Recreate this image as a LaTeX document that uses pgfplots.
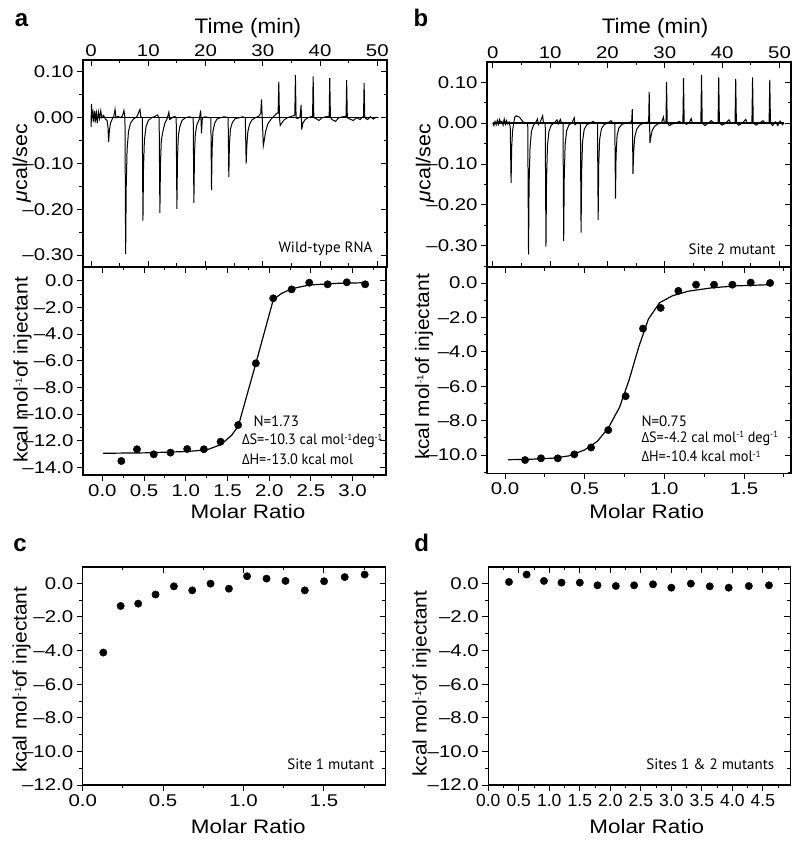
\documentclass[border=0pt]{standalone}
\usepackage{pgfplots}
\pgfplotsset{compat=1.18}
\usepackage{fontspec}
\setmainfont{Liberation Sans}
\newfontfamily\myr{Open Sans}
\newfontfamily\pts{PT Sans}

\pgfplotsset{
  base/.style={scale only axis, anchor=south west,
    axis line style={line width=1.1pt},
    tick style={black, line width=0.9pt},
    major tick length=6pt, minor tick length=3.5pt,
    tick label style={font=\fontsize{17}{19}\selectfont},
    /pgf/number format/assume math mode=true},
  trace/.style={black, line width=1.0pt, mark=none},
  fit/.style={black, line width=1.2pt, mark=none},
  pts/.style={only marks, mark=*, mark size=3.7pt, black},
}
\newcommand{\sx}[1]{\scalebox{1.2}[1]{#1}}
\newcommand{\lab}{\fontsize{19.5}{21}\selectfont}
\newcommand{\tlab}{\fontsize{21}{23}\selectfont}
\newcommand{\ylab}{\fontsize{19.5}{21}\selectfont}
\newcommand{\ulab}{\fontsize{20}{22}\selectfont}
\newcommand{\ann}{\pts\fontsize{15}{17}\selectfont}
\newcommand{\sps}[1]{\raisebox{0.55ex}{\fontsize{9}{10}\selectfont #1}}
\newcommand{\ylabk}{\scalebox{1.07}[1]{kcal mol\sps{-1}of injectant}}
\newcommand{\D}{{\myr\fontsize{14}{16}\selectfont Δ}}

\begin{document}
\begin{tikzpicture}
\useasboundingbox (0pt,0pt) rectangle (800pt,843pt);

% ---------------- panel a top ----------------
\begin{axis}[base, at={(83pt,576pt)}, width=304pt, height=207pt,
  xmin=-1.4, xmax=51.7, ymin=-0.326, ymax=0.126,
  xtick=\empty, ytick={-0.3,-0.2,-0.1,0,0.1},
  yticklabels={\sx{–0.30},\sx{–0.20},\sx{–0.10},\sx{0.00},\sx{0.10}},
  minor ytick={-0.25,-0.15,-0.05,0.05},
  ytick pos=left, tick align=outside]
\addplot[black, line width=1.3pt] coordinates {(0,0) (50,0)};
\addplot[trace] coordinates {
(0,-0.02) (0.08,0.03) (0.2,0.0) (0.35,0.012) (0.5,-0.01) (0.65,0.014) (0.8,-0.004) (0.95,0.01) (1.1,-0.012) (1.3,0.012) (1.5,-0.002) (1.7,0.015) (1.9,0.0) (2.2,0.005) (2.5,-0.003) (2.8,-0.006)
(2.96,-0.02) (3.08,-0.053) (3.2,-0.03) (3.4,-0.012) (3.7,-0.003) (4.0,0.004) (4.2,0.018) (4.35,0.0) (4.7,0.003) (5.1,0.0) (5.5,0.004) (5.75,0.016) (5.93,0.0)
(6.05,-0.298) (6.15,-0.15) (6.3,-0.07) (6.55,-0.03) (6.9,-0.012) (7.4,-0.003) (8.0,0.002) (8.55,0.018) (8.7,0.002) (8.95,0.0)
(9.07,-0.225) (9.17,-0.11) (9.32,-0.05) (9.6,-0.02) (10.0,-0.006) (10.6,0.0) (11.2,0.003) (11.6,0.006) (11.9,0.0)
(12.03,-0.208) (12.13,-0.1) (12.28,-0.05) (12.55,-0.03) (12.9,-0.012) (13.3,-0.002) (13.6,0.012) (13.75,-0.004) (14.2,0.0) (14.6,0.003) (14.88,0.0)
(15.0,-0.199) (15.1,-0.09) (15.25,-0.04) (15.5,-0.02) (15.9,-0.006) (16.5,0.0) (17.2,0.002) (17.6,0.0) (17.85,0.0)
(17.97,-0.186) (18.07,-0.08) (18.22,-0.035) (18.5,-0.015) (18.9,-0.004) (19.15,0.016) (19.3,-0.034) (19.45,0.0) (20.0,0.002) (20.5,0.0) (20.93,0.0)
(21.05,-0.158) (21.15,-0.07) (21.3,-0.03) (21.6,-0.012) (22.0,-0.003) (22.6,0.0) (23.3,0.002) (23.95,0.0)
(24.07,-0.13) (24.17,-0.06) (24.35,-0.025) (24.7,-0.01) (25.2,-0.002) (25.9,0.0) (26.5,0.002) (26.95,0.0)
(27.1,-0.10) (27.22,-0.06) (27.4,-0.03) (27.7,-0.014) (28.1,-0.005) (28.7,0.0) (29.3,0.003) (29.65,0.01) (29.78,0.04) (29.9,0.0) (30.0,-0.03)
(30.1,-0.061) (30.25,-0.05) (30.5,-0.03) (30.9,-0.013) (31.4,-0.004) (32.0,0.004) (32.5,0.01) (32.68,0.01)
(32.8,0.078) (32.92,0.0) (33.05,-0.017) (33.3,-0.012) (33.7,-0.005) (34.3,0.0) (35.0,0.003) (35.5,0.005) (35.6,0.006)
(35.7,0.093) (35.82,0.0) (36.1,-0.002) (36.5,0.002) (36.7,0.028) (36.8,-0.026) (37.0,-0.012) (37.4,-0.004) (37.9,0.0) (38.4,0.002) (38.7,0.003)
(38.8,0.09) (38.92,0.0) (39.3,-0.002) (39.8,-0.006) (40.4,0.0) (41.0,0.002) (41.6,0.003)
(41.7,0.087) (41.82,0.0) (42.2,-0.005) (42.7,-0.008) (43.3,0.0) (44.0,0.002) (44.55,0.003)
(44.65,0.082) (44.77,0.0) (45.2,-0.003) (45.8,-0.006) (46.4,0.0) (47.0,-0.004) (47.6,0.003)
(47.7,0.076) (47.82,0.0) (48.3,-0.004) (48.8,0.002) (49.3,-0.003) (49.8,0.001) (50.2,0.0)
};
\end{axis}
\begin{axis}[base, at={(83pt,576pt)}, width=304pt, height=207pt,
  xmin=-1.4, xmax=51.7, ymin=-0.326, ymax=0.126,
  xtick={0,10,20,30,40,50}, xticklabels={\sx{0},\sx{10},\sx{20},\sx{30},\sx{40},\sx{50}},
  minor xtick={5,15,25,35,45}, xtick pos=both, xticklabel pos=right,
  ytick={-0.3,-0.2,-0.1,0,0.1}, yticklabels={},
  minor ytick={-0.25,-0.15,-0.05,0.05}, ytick pos=right, tick align=inside]
\end{axis}

% ---------------- panel a bottom ----------------
\begin{axis}[base, at={(83pt,368pt)}, width=303pt, height=208pt,
  xmin=-0.232, xmax=3.40, ymin=-14.58, ymax=1.03,
  xtick={0,0.5,1,1.5,2,2.5,3}, xticklabels={\sx{0.0},\sx{0.5},\sx{1.0},\sx{1.5},\sx{2.0},\sx{2.5},\sx{3.0}},
  minor xtick={0.25,0.75,1.25,1.75,2.25,2.75,3.25},
  ytick={-14,-12,-10,-8,-6,-4,-2,0},
  yticklabels={\sx{–14.0},\sx{–12.0},\sx{–10.0},\sx{–8.0},\sx{–6.0},\sx{–4.0},\sx{–2.0},\sx{0.0}},
  minor ytick={-13,-11,-9,-7,-5,-3,-1},
  xtick pos=left, ytick pos=left, tick align=outside]
\addplot[fit] coordinates {(0.01,-12.95) (0.5,-12.92) (1.0,-12.82) (1.25,-12.7) (1.42,-12.3) (1.55,-11.6) (1.63,-10.9) (1.84,-6.2) (2.05,-1.4) (2.15,-0.95) (2.27,-0.6) (2.48,-0.32) (2.8,-0.2) (3.15,-0.15)};
\addplot[pts] coordinates {(0.228,-13.53) (0.415,-12.65) (0.616,-13.03) (0.817,-12.9) (1.017,-12.63) (1.217,-12.65) (1.417,-12.08) (1.628,-10.83) (1.84,-6.2) (2.048,-1.32) (2.269,-0.65) (2.48,-0.15) (2.70,-0.27) (2.93,-0.12) (3.15,-0.27)};
\end{axis}
\begin{axis}[base, at={(83pt,368pt)}, width=303pt, height=208pt,
  xmin=-0.232, xmax=3.40, ymin=-14.58, ymax=1.03,
  xtick={0,0.5,1,1.5,2,2.5,3}, xticklabels={},
  minor xtick={0.25,0.75,1.25,1.75,2.25,2.75,3.25},
  ytick={-14,-12,-10,-8,-6,-4,-2,0}, yticklabels={},
  minor ytick={-13,-11,-9,-7,-5,-3,-1},
  xtick pos=right, ytick pos=right, tick align=inside]
\end{axis}

% ---------------- panel b top ----------------
\begin{axis}[base, at={(487pt,576pt)}, width=304pt, height=205pt,
  xmin=-1.0, xmax=52, ymin=-0.352, ymax=0.1495,
  xtick=\empty, ytick={-0.3,-0.2,-0.1,0,0.1},
  yticklabels={\sx{–0.30},\sx{–0.20},\sx{–0.10},\sx{0.00},\sx{0.10}},
  minor ytick={-0.35,-0.25,-0.15,-0.05,0.05},
  ytick pos=left, tick align=outside]
\addplot[black, line width=1.3pt] coordinates {(0,0) (50.8,0)};
\addplot[trace] coordinates {
(0,0.0) (0.2,-0.006) (0.4,0.004) (0.6,-0.004) (0.8,0.007) (1.0,-0.003) (1.2,0.009) (1.4,0.0) (1.6,0.004) (1.8,-0.005) (2.0,0.01) (2.2,-0.003) (2.4,0.006) (2.6,-0.002) (2.85,0.003) (3.05,-0.01)
(3.2,-0.146) (3.3,-0.06) (3.45,-0.02) (3.65,0.0) (3.85,0.015) (4.1,0.018) (4.4,0.016) (4.7,0.014) (5.0,0.008) (5.3,0.003) (5.7,0.0) (6.1,0.0)
(6.24,-0.321) (6.34,-0.15) (6.5,-0.06) (6.75,-0.02) (7.1,-0.005) (7.5,0.002) (7.8,0.01) (7.95,-0.004) (8.3,0.003) (8.7,0.018) (8.85,0.0) (9.15,0.0)
(9.28,-0.302) (9.38,-0.14) (9.54,-0.055) (9.8,-0.02) (10.2,-0.005) (10.7,0.0) (11.2,0.008) (11.4,-0.002) (11.8,0.009) (12.0,0.0) (12.25,0.0)
(12.37,-0.289) (12.47,-0.13) (12.63,-0.05) (12.9,-0.018) (13.3,-0.004) (13.8,0.0) (14.2,0.013) (14.35,-0.004) (14.8,0.002) (15.28,0.0)
(15.4,-0.268) (15.5,-0.12) (15.66,-0.045) (15.95,-0.015) (16.4,-0.004) (17.0,0.0) (17.5,0.004) (18.0,0.0) (18.26,0.0)
(18.38,-0.237) (18.48,-0.1) (18.64,-0.04) (18.95,-0.014) (19.4,-0.004) (20.0,0.0) (20.6,0.006) (21.0,0.0) (21.28,0.0)
(21.4,-0.185) (21.5,-0.08) (21.68,-0.03) (22.0,-0.012) (22.5,-0.003) (23.2,0.0) (23.9,0.002) (24.22,0.004) (24.33,0.034)
(24.45,-0.124) (24.57,-0.07) (24.75,-0.035) (25.1,-0.015) (25.6,-0.005) (26.3,0.0) (26.9,0.002) (27.18,0.003) (27.28,0.076)
(27.4,-0.049) (27.55,-0.035) (27.8,-0.018) (28.2,-0.008) (28.8,-0.002) (29.4,0.0) (29.75,0.015) (29.9,0.002) (30.2,0.0)
(30.3,0.10) (30.42,0.0) (30.8,-0.006) (31.3,-0.002) (31.9,0.0) (32.5,0.004) (33.15,0.0)
(33.26,0.11) (33.38,0.0) (33.8,-0.003) (34.3,0.002) (34.6,0.011) (34.8,0.0) (35.5,0.0) (36.28,0.0)
(36.4,0.118) (36.52,0.0) (37.0,-0.006) (37.6,0.0) (38.1,0.006) (38.6,0.0) (39.28,0.0)
(39.4,0.112) (39.52,0.0) (40.0,-0.005) (40.6,0.0) (41.2,0.008) (41.5,0.0) (42.24,0.0)
(42.36,0.108) (42.48,0.0) (42.9,-0.005) (43.5,0.0) (44.1,0.009) (44.4,0.0) (45.18,0.0)
(45.3,0.112) (45.42,0.0) (45.9,-0.005) (46.5,0.0) (47.1,0.006) (47.5,0.0) (48.18,0.0)
(48.3,0.106) (48.42,0.0) (48.8,-0.006) (49.3,0.003) (49.7,-0.006) (50.1,0.005) (50.5,-0.004) (50.8,0.0)
};
\end{axis}
\begin{axis}[base, at={(487pt,576pt)}, width=304pt, height=205pt,
  xmin=-1.0, xmax=52, ymin=-0.352, ymax=0.1495,
  xtick={0,10,20,30,40,50}, xticklabels={\sx{0},\sx{10},\sx{20},\sx{30},\sx{40},\sx{50}},
  minor xtick={5,15,25,35,45}, xtick pos=both, xticklabel pos=right,
  ytick={-0.3,-0.2,-0.1,0,0.1}, yticklabels={},
  minor ytick={-0.35,-0.25,-0.15,-0.05,0.05}, ytick pos=right, tick align=inside]
\end{axis}

% ---------------- panel b bottom ----------------
\begin{axis}[base, at={(487pt,369.7pt)}, width=304pt, height=206pt,
  xmin=-0.113, xmax=1.795, ymin=-11.06, ymax=0.91,
  xtick={0,0.5,1,1.5}, xticklabels={\sx{0.0},\sx{0.5},\sx{1.0},\sx{1.5}},
  minor xtick={0.25,0.75,1.25,1.75},
  ytick={-10,-8,-6,-4,-2,0},
  yticklabels={\sx{–10.0},\sx{–8.0},\sx{–6.0},\sx{–4.0},\sx{–2.0},\sx{0.0}},
  minor ytick={-11,-9,-7,-5,-3,-1},
  xtick pos=left, ytick pos=left, tick align=outside]
\addplot[fit] coordinates {(0.02,-10.27) (0.15,-10.25) (0.3,-10.18) (0.4,-10.05) (0.5,-9.7) (0.58,-9.2) (0.65,-8.4) (0.72,-7.2) (0.78,-5.6) (0.84,-3.7) (0.9,-2.1) (0.97,-1.15) (1.05,-0.75) (1.15,-0.48) (1.3,-0.28) (1.45,-0.17) (1.664,-0.1)};
\addplot[pts] coordinates {(0.126,-10.29) (0.226,-10.19) (0.331,-10.19) (0.435,-9.96) (0.54,-9.56) (0.648,-8.55) (0.757,-6.58) (0.866,-2.65) (0.977,-1.45) (1.088,-0.46) (1.199,-0.1) (1.312,-0.1) (1.427,-0.1) (1.542,0.02) (1.664,0.0)};
\end{axis}
\begin{axis}[base, at={(487pt,369.7pt)}, width=304pt, height=206pt,
  xmin=-0.113, xmax=1.795, ymin=-11.06, ymax=0.91,
  xtick={0,0.5,1,1.5}, xticklabels={},
  minor xtick={0.25,0.75,1.25,1.75},
  ytick={-10,-8,-6,-4,-2,0}, yticklabels={},
  minor ytick={-11,-9,-7,-5,-3,-1},
  xtick pos=right, ytick pos=right, tick align=inside]
\end{axis}

% ---------------- panel c ----------------
\begin{axis}[base, at={(82.7pt,58pt)}, width=303pt, height=218pt,
  xmin=0, xmax=1.884, ymin=-12, ymax=0.97,
  xtick={0,0.5,1,1.5}, xticklabels={\sx{0.0},\sx{0.5},\sx{1.0},\sx{1.5}},
  minor xtick={0.25,0.75,1.25,1.75},
  ytick={-12,-10,-8,-6,-4,-2,0},
  yticklabels={\sx{–12.0},\sx{–10.0},\sx{–8.0},\sx{–6.0},\sx{–4.0},\sx{–2.0},\sx{0.0}},
  minor ytick={-11,-9,-7,-5,-3,-1},
  xtick pos=left, ytick pos=left, tick align=outside]
\addplot[pts] coordinates {(0.128,-4.12) (0.236,-1.35) (0.345,-1.21) (0.453,-0.67) (0.567,-0.18) (0.681,-0.42) (0.795,-0.02) (0.909,-0.32) (1.022,0.42) (1.143,0.28) (1.261,0.14) (1.381,-0.42) (1.501,0.12) (1.629,0.37) (1.753,0.52)};
\end{axis}
\begin{axis}[base, at={(82.7pt,58pt)}, width=303pt, height=218pt,
  xmin=0, xmax=1.884, ymin=-12, ymax=0.97,
  xtick={0,0.5,1,1.5}, xticklabels={},
  minor xtick={0.25,0.75,1.25,1.75},
  ytick={-12,-10,-8,-6,-4,-2,0}, yticklabels={},
  minor ytick={-11,-9,-7,-5,-3,-1},
  xtick pos=right, ytick pos=right, tick align=inside]
\end{axis}

% ---------------- panel d ----------------
\begin{axis}[base, at={(488.3pt,58pt)}, width=302pt, height=218pt,
  xmin=0, xmax=4.95, ymin=-12, ymax=0.97,
  xtick={0,0.5,1,1.5,2,2.5,3,3.5,4,4.5},
  xticklabels={0.0,0.5,1.0,1.5,2.0,2.5,3.0,3.5,4.0,4.5},
  minor xtick={0.25,0.75,1.25,1.75,2.25,2.75,3.25,3.75,4.25,4.75},
  ytick={-12,-10,-8,-6,-4,-2,0},
  yticklabels={\sx{–12.0},\sx{–10.0},\sx{–8.0},\sx{–6.0},\sx{–4.0},\sx{–2.0},\sx{0.0}},
  minor ytick={-11,-9,-7,-5,-3,-1},
  xtick pos=left, ytick pos=left, tick align=outside,
  x tick label style={font=\fontsize{17.5}{19}\selectfont}]
\addplot[pts] coordinates {(0.339,0.08) (0.628,0.52) (0.912,0.14) (1.2,0.04) (1.5,0.04) (1.79,-0.12) (2.09,-0.16) (2.39,-0.12) (2.70,-0.06) (3.0,-0.26) (3.32,-0.02) (3.63,-0.18) (3.94,-0.26) (4.27,-0.16) (4.6,-0.12)};
\end{axis}
\begin{axis}[base, at={(488.3pt,58pt)}, width=302pt, height=218pt,
  xmin=0, xmax=4.95, ymin=-12, ymax=0.97,
  xtick={0,0.5,1,1.5,2,2.5,3,3.5,4,4.5}, xticklabels={},
  minor xtick={0.25,0.75,1.25,1.75,2.25,2.75,3.25,3.75,4.25,4.75},
  ytick={-12,-10,-8,-6,-4,-2,0}, yticklabels={},
  minor ytick={-11,-9,-7,-5,-3,-1},
  xtick pos=right, ytick pos=right, tick align=inside]
\end{axis}

% ---------------- labels ----------------
\node[font=\fontsize{24}{26}\selectfont\bfseries] at (21.5pt,823pt) {a};
\node[font=\fontsize{24}{26}\selectfont\bfseries] at (421pt,825pt) {b};
\node[font=\fontsize{24}{26}\selectfont\bfseries] at (20pt,298pt) {c};
\node[font=\fontsize{24}{26}\selectfont\bfseries] at (421.7pt,300pt) {d};

\node[font=\tlab] at (248pt,815pt) {\scalebox{1.07}[1]{Time (min)}};
\node[font=\tlab] at (655pt,815pt) {\scalebox{1.07}[1]{Time (min)}};
\node[font=\ulab, rotate=90] at (21.7pt,680pt) {\scalebox{1.07}[1]{\textit{μ}cal/sec}};
\node[font=\ulab, rotate=90] at (425pt,680pt) {\scalebox{1.07}[1]{\textit{μ}cal/sec}};
\node[font=\ylab, rotate=90] at (22.5pt,473pt) {\ylabk};
\node[font=\ylab, rotate=90] at (424pt,476pt) {\ylabk};
\node[font=\ylab, rotate=90] at (21.7pt,163.3pt) {\ylabk};
\node[font=\ylab, rotate=90] at (421.7pt,159.3pt) {\ylabk};
\node[font=\lab] at (248pt,331.3pt) {\scalebox{1.15}[1]{Molar Ratio}};
\node[font=\lab] at (646.7pt,331.3pt) {\scalebox{1.15}[1]{Molar Ratio}};
\node[font=\lab] at (248.3pt,16.3pt) {\scalebox{1.15}[1]{Molar Ratio}};
\node[font=\lab] at (646.7pt,16.3pt) {\scalebox{1.15}[1]{Molar Ratio}};

\node[font=\ann, anchor=east] at (376pt,594.7pt) {Wild-type RNA};
\node[font=\ann, anchor=east] at (779pt,593.7pt) {Site 2 mutant};
\node[font=\ann, anchor=east] at (377.7pt,79pt) {Site 1 mutant};
\node[font=\ann, anchor=east] at (777.7pt,79pt) {Sites 1 \& 2 mutants};

\node[font=\ann, anchor=west] at (250pt,421.3pt) {N=1.73};
\node[font=\ann, anchor=west] at (238.5pt,402.3pt) {\scalebox{0.95}[1]{\D S=-10.3 cal mol\sps{-1}deg\sps{-1}}};
\node[font=\ann, anchor=west] at (238.5pt,384pt) {\scalebox{0.95}[1]{\D H=-13.0 kcal mol}};
\node[font=\ann, anchor=west] at (638pt,422pt) {N=0.75};
\node[font=\ann, anchor=west] at (638pt,404.7pt) {\scalebox{0.95}[1]{\D S=-4.2 cal mol\sps{-1} deg\sps{-1}}};
\node[font=\ann, anchor=west] at (638pt,387pt) {\scalebox{0.95}[1]{\D H=-10.4 kcal mol\sps{-1}}};
\end{tikzpicture}
\end{document}
